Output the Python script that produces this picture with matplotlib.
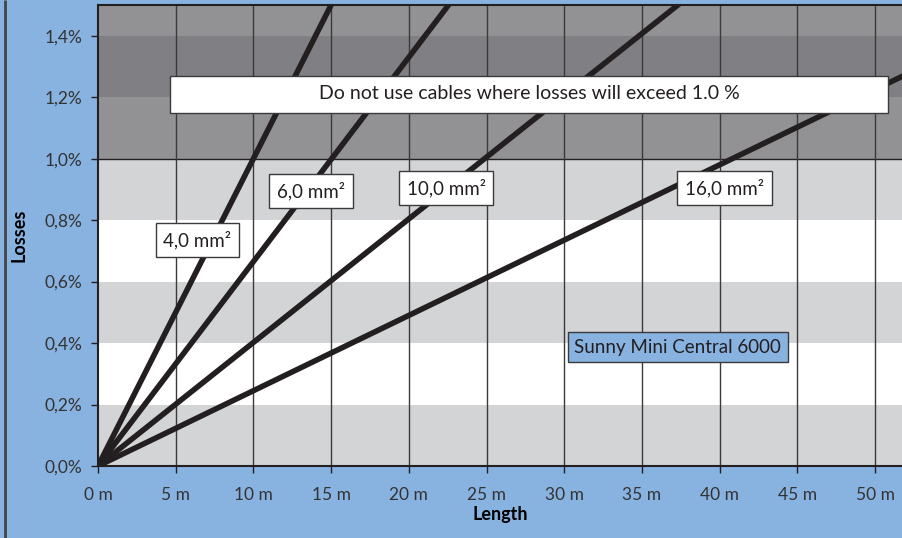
import numpy as np
import matplotlib.pyplot as plt
from matplotlib.patches import Rectangle

plt.rcParams['font.family'] = ['Lato', 'DejaVu Sans']

# loss per metre (%) for each cable cross-section
sections = ['4,0 mm²', '6,0 mm²', '10,0 mm²', '16,0 mm²']
slopes = [0.100, 0.0665, 0.0402, 0.0245]
label_x = [6.4, 13.7, 22.4, 40.3]
label_y = [0.735, 0.895, 0.905, 0.905]

x_ticks = list(range(0, 55, 5))
x_labels = [f'{v} m' for v in x_ticks]
y_ticks = [0.0, 0.2, 0.4, 0.6, 0.8, 1.0, 1.2, 1.4]
y_labels = [f'{v:.1f}%'.replace('.', ',') for v in y_ticks]

# horizontal bands (bottom, top, colour)
bands = [(0.0, 0.2, '#d3d4d6'), (0.2, 0.4, '#ffffff'), (0.4, 0.6, '#d3d4d6'),
         (0.6, 0.8, '#ffffff'), (0.8, 1.0, '#d3d4d6'), (1.0, 1.2, '#929294'),
         (1.2, 1.4, '#808084'), (1.4, 1.5, '#929294')]

bg = '#88b2e0'
ink = '#231f20'

fig = plt.figure(figsize=(9.03, 5.38), dpi=100, facecolor=bg)
ax = fig.add_axes([98/903, 1-466/538, 1-98/903, 461/538])
xmax = 51.8
ax.set_xlim(0, xmax)
ax.set_ylim(0, 1.5)

for lo, hi, c in bands:
    ax.axhspan(lo, hi, color=c, lw=0, zorder=0)
ax.axhline(1.0, color=ink, lw=1.0, zorder=1)
for v in x_ticks[1:]:
    ax.axvline(v, color='#3a3a3c', lw=1.0, zorder=1)

xs = np.array([0, xmax])
for s in slopes:
    ax.plot(xs, s * xs, color=ink, lw=4.0, solid_capstyle='butt', zorder=3)

box = dict(boxstyle='square,pad=0.42', fc='white', ec='#3a3a3c', lw=1.0)
for name, lx, ly in zip(sections, label_x, label_y):
    ax.text(lx, ly, name, ha='center', va='center', fontsize=13.5, color=ink,
            bbox=box, zorder=5)

# warning box
ax.add_patch(Rectangle((4.63, 1.149), 46.2, 0.12, fc='white', ec='#3a3a3c',
                       lw=1.0, zorder=5))
ax.text(4.63 + 23.1, 1.212, 'Do not use cables where losses will exceed 1.0 %',
        ha='center', va='center', fontsize=14, color=ink, zorder=6)

ax.text(37.3, 0.387, 'Sunny Mini Central 6000', ha='center', va='center',
        fontsize=13.5, color=ink, zorder=5,
        bbox=dict(boxstyle='square,pad=0.35', fc=bg, ec='#3a3a3c', lw=1.0))

ax.set_xticks(x_ticks)
ax.set_xticklabels(x_labels)
ax.set_yticks(y_ticks)
ax.set_yticklabels(y_labels)
ax.tick_params(axis='both', direction='out', length=5, width=1.0,
               color=ink, labelsize=12.5, labelcolor='#333333')
ax.tick_params(axis='x', pad=10)
ax.tick_params(axis='y', pad=6)
ax.spines['right'].set_visible(False)
for side in ['left', 'bottom', 'top']:
    ax.spines[side].set_color(ink)
    ax.spines[side].set_linewidth(1.5)

ax.set_xlabel('Length', fontsize=13, fontweight='bold', color='black')
ax.set_ylabel('Losses', fontsize=13, fontweight='bold', color='black')
ax.yaxis.set_label_coords((28 - 98) / 805, 0.5)
ax.xaxis.set_label_coords(0.5, (466 - 506) / 461)

# figure border on the left
fig.add_artist(Rectangle((5/903, 0), 0, 1, transform=fig.transFigure,
                         ec='#444444', lw=2, fill=False))

fig.savefig('out.png', dpi=100, facecolor=bg)
